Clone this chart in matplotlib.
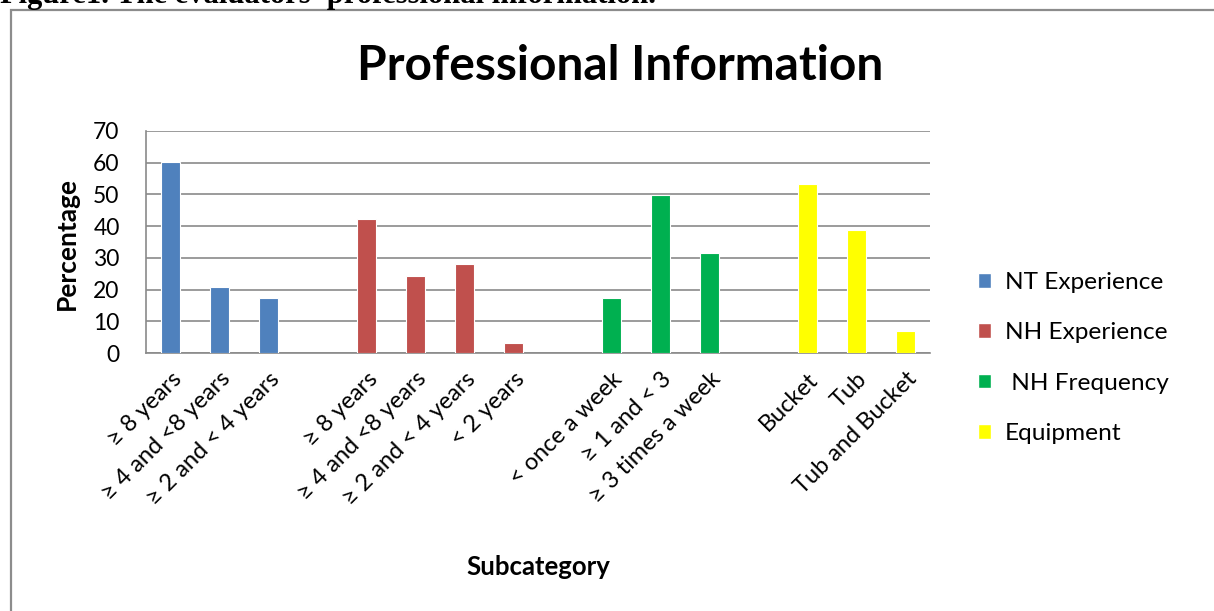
import numpy as np
import matplotlib.pyplot as plt
from matplotlib.patches import Rectangle, Patch

plt.rcParams['font.family'] = ['Lato', 'DejaVu Sans']

# --- Data (percent) ---
nt_labels = ['≥ 8 years', '≥ 4 and <8 years', '≥ 2 and < 4 years']
nt_values = [60.3, 20.7, 17.2]

nh_exp_labels = ['≥ 8 years', '≥ 4 and <8 years', '≥ 2 and < 4 years', '< 2 years']
nh_exp_values = [42.3, 24.4, 28.2, 3.2]

nh_freq_labels = ['< once a week', '≥ 1 and < 3', '≥ 3 times a week']
nh_freq_values = [17.3, 49.7, 31.5]

equip_labels = ['Bucket', 'Tub', 'Tub and Bucket']
equip_values = [53.2, 38.9, 6.8]

groups = [
    ('NT Experience', nt_labels, nt_values, '#4F81BD'),
    ('NH Experience', nh_exp_labels, nh_exp_values, '#C0504D'),
    (' NH Frequency', nh_freq_labels, nh_freq_values, '#00B050'),
    ('Equipment', equip_labels, equip_values, '#FFFF00'),
]

fig = plt.figure(figsize=(12.14, 6.11), dpi=100)
ax = fig.add_axes([146 / 1214, 1 - 353 / 611, 784 / 1214, 222 / 611])

# outer frame of the figure panel (cut off right and bottom)
fig.patches.append(Rectangle((11 / 1214, -0.1), 1.2, 1 - 10 / 611 + 0.1,
                             transform=fig.transFigure, fill=False,
                             edgecolor='#8c8c8c', linewidth=1.6))
# caption, cut off by the top edge as in the source page
fig.text(0.0, 1 - 3 / 611, "Figure1. The evaluators' professional information.",
         family='Liberation Serif', weight='bold', fontsize=22,
         ha='left', va='baseline')

ticks, tick_labels = [], []
pos = 0
handles = []
for name, labels, values, color in groups:
    x = np.arange(pos, pos + len(values))
    ax.bar(x, values, width=0.37, color=color, edgecolor='white', linewidth=0.8, zorder=3)
    ticks.extend(x)
    tick_labels.extend(labels)
    handles.append(Patch(facecolor=color, edgecolor='white', label=name))
    pos += len(values) + 1

ax.set_xlim(-0.5, pos - 1.5)
ax.set_ylim(0, 70)
ax.set_yticks(range(0, 71, 10))
ax.tick_params(axis='y', length=0, labelsize=16.5, pad=19)
ax.set_xticks(ticks)
ax.set_xticklabels(tick_labels, rotation=45, ha='right', rotation_mode='anchor',
                   fontsize=17)
ax.tick_params(axis='x', length=0, pad=11)

ax.grid(axis='y', color='#8a8a8a', linewidth=1.2, zorder=0)
for s in ['top', 'right']:
    ax.spines[s].set_visible(False)
for s in ['left', 'bottom']:
    ax.spines[s].set_color('#8a8a8a')
    ax.spines[s].set_linewidth(1.2)

fig.text(620 / 1214, 1 - 66 / 611, 'Professional Information', fontsize=34.5,
         weight='bold', ha='center', va='center')
fig.text(67 / 1214, 1 - 244 / 611, 'Percentage', fontsize=19, weight='bold',
         rotation=90, ha='center', va='center')
fig.text(538 / 1214, 1 - 567 / 611, 'Subcategory', fontsize=18.5, weight='bold',
         ha='center', va='center')

fig.legend(handles=handles, loc='center left', bbox_to_anchor=(956 / 1214, 1 - 358 / 611),
           frameon=False, fontsize=17.6, handlelength=0.55, handleheight=0.55,
           handletextpad=0.55, labelspacing=1.2)

fig.savefig('out.png', dpi=100)
